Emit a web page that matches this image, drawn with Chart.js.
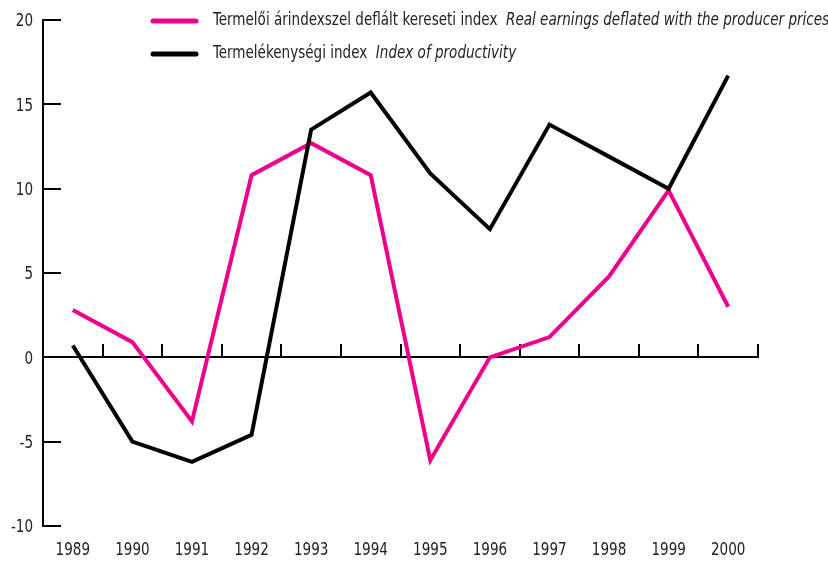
<!DOCTYPE html>
<html>
<head>
<meta charset="utf-8">
<script src="https://cdn.jsdelivr.net/npm/chart.js@4"></script>
<style>
  html, body { margin: 0; padding: 0; background: #fff; }
  #wrap { width: 828px; height: 562px; }
</style>
</head>
<body>
<div id="wrap"><canvas id="lineChart"></canvas></div>
<script>
var years = ["1989", "1990", "1991", "1992", "1993", "1994", "1995", "1996", "1997", "1998", "1999", "2000"];
var realEarnings = [2.8, 0.9, -3.8, 10.8, 12.7, 10.8, -6.1, 0.0, 1.2, 4.8, 9.9, 3.0];
var productivity = [0.7, -5.0, -6.2, -4.6, 13.5, 15.7, 10.9, 7.6, 13.8, 11.9, 10.0, 16.7];
var yTicks = [20, 15, 10, 5, 0, -5, -10];

var FONT = "'DejaVu Sans Condensed', 'DejaVu Sans', sans-serif";
var SQUEEZE = 0.885; // keskenyített betűkép
var PINK = "#EC008C";

function narrowText(ctx, text, x, y, align) {
    ctx.save();
    ctx.translate(x, y);
    ctx.scale(SQUEEZE, 1);
    ctx.textAlign = align;
    ctx.fillText(text, 0, 0);
    ctx.restore();
}

// tengelyek: belső osztásokkal, a 0 vonalon futó vízszintes tengellyel
var axesPlugin = {
    id: "axes",
    beforeDatasetsDraw: function (chart) {
        var ctx = chart.ctx, area = chart.chartArea;
        var x = chart.scales.x, y = chart.scales.y;
        ctx.save();
        ctx.strokeStyle = "#000";
        ctx.lineWidth = 2;
        ctx.lineCap = "butt";

        ctx.beginPath();
        ctx.moveTo(area.left, area.top);
        ctx.lineTo(area.left, area.bottom);
        yTicks.forEach(function (v) {
            var py = Math.round(y.getPixelForValue(v));
            ctx.moveTo(area.left - 1, py);
            ctx.lineTo(area.left + 18, py);
        });
        var y0 = Math.round(y.getPixelForValue(0));
        ctx.moveTo(area.left, y0);
        ctx.lineTo(area.right, y0);
        var half = (x.getPixelForValue(1) - x.getPixelForValue(0)) / 2;
        for (var i = 0; i < years.length; i++) {
            var px = Math.round(x.getPixelForValue(i) + half);
            ctx.moveTo(px, y0 + 1);
            ctx.lineTo(px, y0 - 13);
        }
        ctx.stroke();

        ctx.fillStyle = "#222";
        ctx.font = "17px " + FONT;
        ctx.textBaseline = "middle";
        yTicks.forEach(function (v) {
            narrowText(ctx, String(v), area.left - 10, y.getPixelForValue(v) + 2, "right");
        });
        years.forEach(function (lab, i) {
            narrowText(ctx, lab, x.getPixelForValue(i), 551, "center");
        });
        ctx.restore();
    }
};

// jelmagyarázat: magyar szöveg álló, angol dőlt betűvel
var legendPlugin = {
    id: "legendBox",
    afterDraw: function (chart) {
        var ctx = chart.ctx;
        var rows = [
            { color: PINK, hu: "Termelői árindexszel deflált kereseti index", en: "Real earnings deflated with the producer prices", y: 21 },
            { color: "#000", hu: "Termelékenységi index", en: "Index of productivity", y: 54 }
        ];
        ctx.save();
        rows.forEach(function (r) {
            ctx.strokeStyle = r.color;
            ctx.lineWidth = 5;
            ctx.lineCap = "round";
            ctx.beginPath();
            ctx.moveTo(153, r.y);
            ctx.lineTo(196, r.y);
            ctx.stroke();
            ctx.fillStyle = "#222";
            ctx.textBaseline = "middle";
            ctx.font = "17px " + FONT;
            narrowText(ctx, r.hu, 213, r.y, "left");
            var w = ctx.measureText(r.hu + "  ").width * SQUEEZE;
            ctx.font = "italic 17px " + FONT;
            narrowText(ctx, r.en, 213 + w, r.y, "left");
        });
        ctx.restore();
    }
};

new Chart(document.getElementById("lineChart"), {
    type: "line",
    data: {
        labels: years,
        datasets: [
            {
                label: "Termelői árindexszel deflált kereseti index",
                data: realEarnings,
                borderColor: PINK,
                borderWidth: 4,
                pointRadius: 0,
                tension: 0,
                fill: false,
                order: 1
            },
            {
                label: "Termelékenységi index",
                data: productivity,
                borderColor: "#000",
                borderWidth: 4,
                pointRadius: 0,
                tension: 0,
                fill: false,
                order: 0
            }
        ]
    },
    options: {
        responsive: true,
        maintainAspectRatio: false,
        animation: false,
        layout: { padding: { left: 43, right: 70, top: 20, bottom: 36 } },
        plugins: { legend: { display: false }, tooltip: { enabled: false } },
        scales: {
            x: { type: "category", offset: true, display: false },
            y: { min: -10, max: 20, display: false }
        }
    },
    plugins: [axesPlugin, legendPlugin]
});
</script>
</body>
</html>
